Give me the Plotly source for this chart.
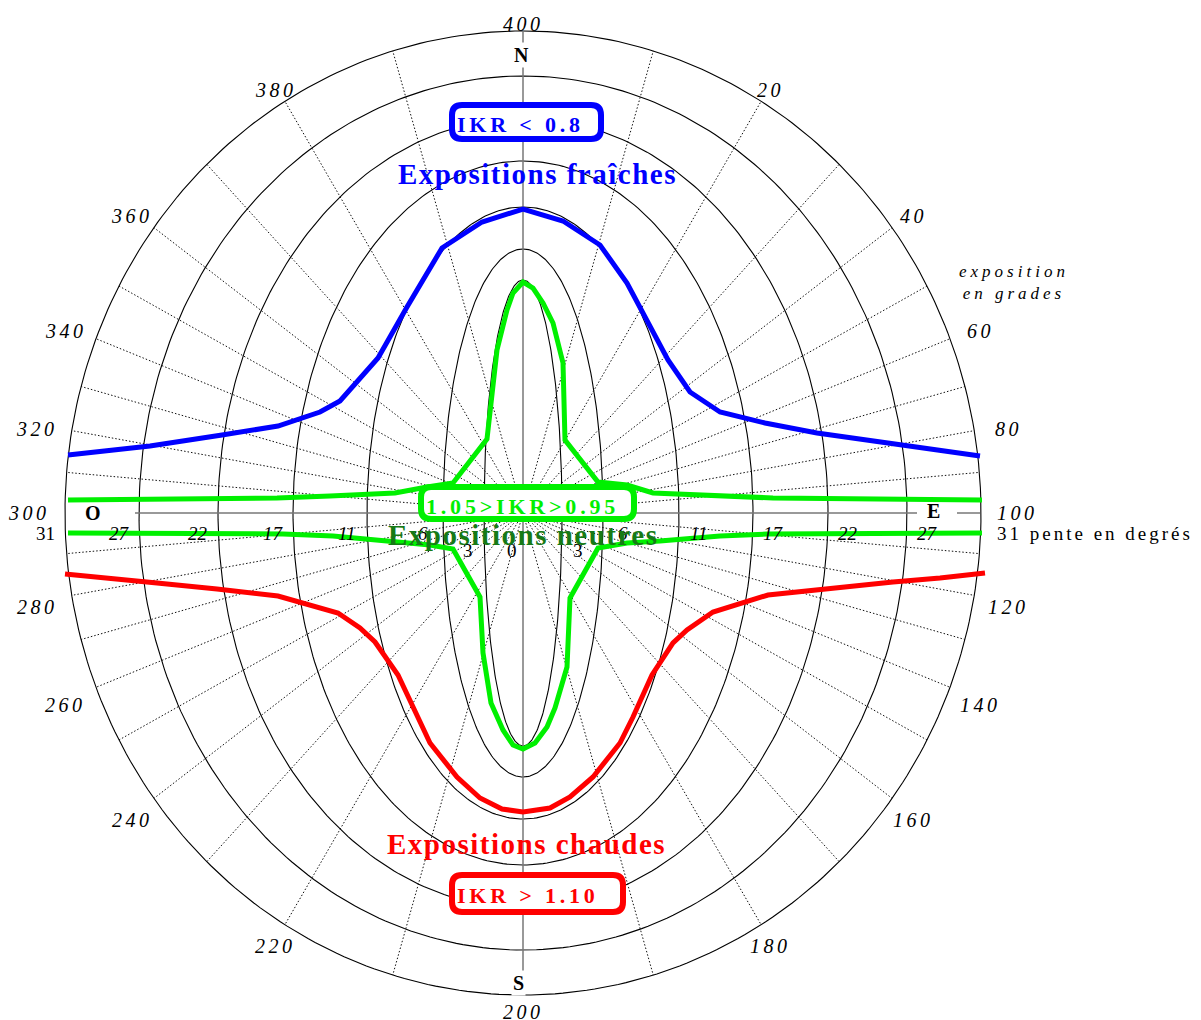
import numpy as np
import plotly.graph_objects as go

# ---------------- data ----------------
# slope classes (percent) and their labels in degrees
SLOPE_PCT = [5, 10, 20, 30, 40, 50, 60]
SLOPE_DEG = ["3", "6", "11", "17", "22", "27", "31"]
# exposition (grades) of the dotted direction lines and of the labels
RAY_GRADES = [g for g in range(10, 400, 10) if g % 100 != 0]
LABEL_GRADES = list(range(20, 401, 20))

# IKR iso-lines, digitised in diagram units (origin = diagram centre)
blue_x = [-455, -413, -373, -301, -245, -203, -183, -145, -116, -81, -41, 0,
          40, 77, 104, 145, 167, 197, 242, 294, 409, 457]
blue_y = [58, 62, 67, 78, 87, 101, 112, 155, 206, 265, 291, 304,
          292, 268, 230, 153, 121, 101, 90, 80, 64, 57]

green_hi_x = [-455, -246, -193, -128, -96, -70, -36, -31, -26, -16, -10, 0,
              10, 20, 30, 40, 42, 75, 104, 130, 197, 250, 459]
green_hi_y = [13, 15, 17, 20, 26, 30, 74, 116, 163, 203, 220, 231,
              225, 210, 190, 150, 73, 31, 28, 20, 17, 15, 13]

green_lo_x = [-455, -240, -190, -150, -93, -70, -43, -40, -32, -20, -10, 0,
              12, 24, 32, 44, 47, 75, 104, 137, 197, 244, 459]
green_lo_y = [-20, -21, -23, -27, -32, -36, -84, -140, -190, -217, -232, -236,
              -230, -214, -195, -154, -85, -35, -30, -28, -23, -21, -20]

red_x = [-458, -413, -366, -306, -245, -185, -163, -148, -125, -93, -66, -43, -21, 0,
         27, 47, 70, 97, 110, 129, 150, 164, 190, 245, 310, 370, 417, 462]
red_y = [-61, -66, -70, -76, -83, -100, -115, -129, -162, -230, -264, -285, -296, -299,
         -295, -284, -264, -230, -204, -162, -130, -117, -99, -82, -75, -69, -65, -60]

# ---------------- diagram projection ----------------
CAL_PCT = [0, 5, 10, 20, 30, 40, 50, 60]
CAL_A = [0, 39, 80, 156, 230, 305, 384, 458]
CAL_B = [220, 233, 264, 306, 352, 395, 437, 482]
K = 1.78


def semi_axes(p):
    return float(np.interp(p, CAL_PCT, CAL_A)), float(np.interp(p, CAL_PCT, CAL_B))


def ray_angle(g):
    t = g * np.pi / 200.0
    return np.arctan2(K * np.sin(t), np.cos(t))


def on_ellipse(psi, a, b):
    s, c = np.sin(psi), np.cos(psi)
    r = 1.0 / np.sqrt((s / a) ** 2 + (c / b) ** 2)
    return r * s, r * c


A_OUT, B_OUT = semi_axes(SLOPE_PCT[-1])
SERIF = "Liberation Serif"

fig = go.Figure()

# rings
rx, ry = [], []
tt = np.linspace(0, 2 * np.pi, 361)
for p in SLOPE_PCT:
    a, b = semi_axes(p)
    rx += list(a * np.sin(tt)) + [None]
    ry += list(b * np.cos(tt)) + [None]
fig.add_trace(go.Scatter(x=rx, y=ry, mode="lines", line=dict(color="black", width=1.1),
                         hoverinfo="skip", showlegend=False))

# dotted direction lines
dx, dy = [], []
for g in RAY_GRADES:
    ex, ey = on_ellipse(ray_angle(g), A_OUT, B_OUT)
    dx += [0, ex, None]
    dy += [0, ey, None]
fig.add_trace(go.Scatter(x=dx, y=dy, mode="lines", line=dict(color="#111", width=1, dash="1.5px,2px"),
                         hoverinfo="skip", showlegend=False))

# main axes (N-S, O-E)
fig.add_trace(go.Scatter(x=[0, 0, None, -(A_OUT - 70), A_OUT - 64, None, A_OUT - 24, A_OUT - 1],
                         y=[B_OUT, -B_OUT, None, 0, 0, None, 0, 0],
                         mode="lines", line=dict(color="#777", width=1.5),
                         hoverinfo="skip", showlegend=False))

# IKR curves
for xs, ys, col in [(blue_x, blue_y, "#0000ff"), (green_hi_x, green_hi_y, "#00f000"),
                    (green_lo_x, green_lo_y, "#00f000"), (red_x, red_y, "#ff0000")]:
    fig.add_trace(go.Scatter(x=xs, y=ys, mode="lines", line=dict(color=col, width=5),
                             hoverinfo="skip", showlegend=False))


# rounded boxes
def rounded(cx, cy, w, h, r=10):
    x0, x1, y0, y1 = cx - w / 2, cx + w / 2, cy - h / 2, cy + h / 2
    return (f"M {x0 + r},{y0} L {x1 - r},{y0} Q {x1},{y0} {x1},{y0 + r} "
            f"L {x1},{y1 - r} Q {x1},{y1} {x1 - r},{y1} L {x0 + r},{y1} "
            f"Q {x0},{y1} {x0},{y1 - r} L {x0},{y0 + r} Q {x0},{y0} {x0 + r},{y0} Z")


for (cx, cy, w, h, col) in [(3.5, 391, 149, 34, "#0000ff"), (4.5, 10, 213, 32, "#00f000"),
                            (14.5, -380.5, 171, 37, "#ff0000")]:
    fig.add_shape(type="path", path=rounded(cx, cy, w, h), line=dict(color=col, width=6),
                  fillcolor="white", layer="above")


def sp(text, px):
    return f'<span style="letter-spacing:{px}px">{text}</span>'


ann = []


def add(x, y, text, size, color="black", xa="center", ya="middle", bg=None):
    d = dict(x=x, y=y, text=text, showarrow=False, xanchor=xa, yanchor=ya,
             font=dict(family=SERIF, size=size, color=color), xref="x", yref="y")
    if bg:
        d["bgcolor"] = bg
    ann.append(d)


# grade labels
for g in LABEL_GRADES:
    lx, ly = on_ellipse(ray_angle(g), A_OUT + 36, B_OUT + 12)
    shift = -5 * min(1.0, abs(ly) / 80.0)
    add(lx, ly + shift, "<i>" + sp(str(g), 3.5) + "</i>", 20)

add(434, 231, "<i>" + sp("exposition", 4) + "<br>" + sp("en grades", 4) + "</i>", 17, xa="left")

# slope labels on the O-E axis
for p, lab in zip(SLOPE_PCT, SLOPE_DEG):
    a, _ = semi_axes(p)
    if p == 5:
        add(a + 16, -37, lab, 19)
        add(-(a + 16), -37, lab, 19)
    elif p == SLOPE_PCT[-1]:
        add(a + 14, -20, sp(lab + " pente en degrés", 3), 19, xa="left")
        add(-(a + 20), -20, lab, 19)
    else:
        add(a + 20, -20, "<i>" + lab + "</i>", 19)
        add(-(a + 20), -20, "<i>" + lab + "</i>", 19)
add(-11, -37, "0", 19)

# cardinal points
add(-2, 458, "<b>N</b>", 20, bg="white")
add(-5, -470, "<b>S</b>", 20, bg="white")
add(410, 2, "<b>E</b>", 20)
add(-430, 0, "<b>O</b>", 20)

# class texts
add(-2.5, 388.5, "<b>" + sp("IKR &lt; 0.8", 3.8) + "</b>", 22, color="#0000ff")
add(14, 339.5, "<b>" + sp("Expositions fraîches", 1.5) + "</b>", 29, color="#0000ff")
add(-0.5, 6.5, "<b>" + sp("1.05>IKR>0.95", 3.8) + "</b>", 22, color="#00f000")
add(-0.5, -22, "<b>" + sp("Expositions neutres", 1.5) + "</b>", 29, color="#167a16")
add(3.5, -331, "<b>" + sp("Expositions chaudes", 1.5) + "</b>", 29, color="#ff0000")
add(4.5, -382, "<b>" + sp("IKR > 1.10", 3.8) + "</b>", 22, color="#ff0000")

W, H = 1201, 1020
CX, CY = 523, 513
fig.update_layout(
    width=W, height=H, autosize=False,
    margin=dict(l=0, r=0, t=0, b=0, pad=0),
    paper_bgcolor="white", plot_bgcolor="white",
    xaxis=dict(range=[-CX, W - CX], visible=False, fixedrange=True),
    yaxis=dict(range=[CY - H, CY], visible=False, fixedrange=True),
    annotations=ann, showlegend=False,
)

fig.write_html("out.html", post_script="document.body.style.margin='0';",
               config={"displayModeBar": False})
